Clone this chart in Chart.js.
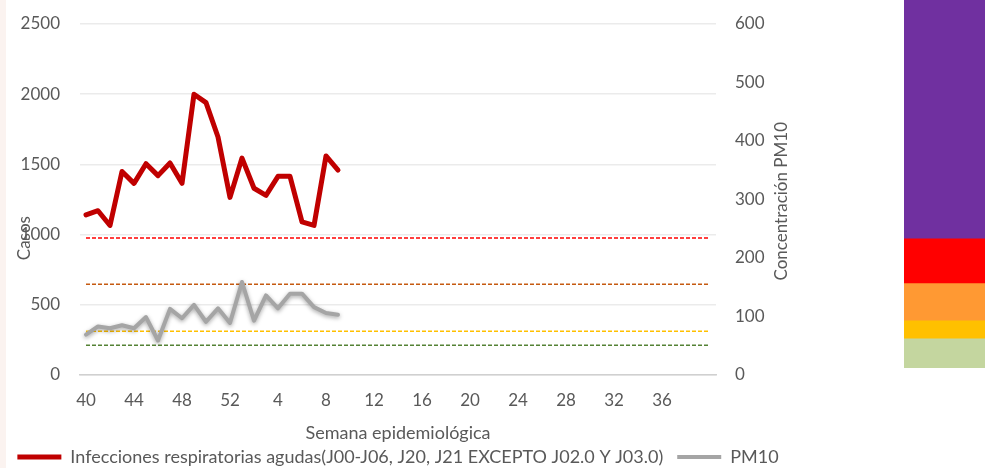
<!DOCTYPE html>
<html lang="es">
<head>
<meta charset="utf-8">
<title>IRA y PM10 por semana epidemiológica</title>
<script src="https://cdn.jsdelivr.net/npm/chart.js@4.4.1/dist/chart.umd.min.js"></script>
<style>
    body { margin: 0; background: #ffffff; }
    #wrap { position: relative; width: 985px; height: 468px; overflow: hidden; }
    #leftStrip { position: absolute; left: 0; top: 0; width: 6px; height: 468px; background: #fbf3f0; }
    #chart { position: absolute; left: 0; top: 0; }
    #scaleBar { position: absolute; left: 904px; top: 0; }
</style>
</head>
<body>
<div id="wrap">
    <div id="leftStrip"></div>
    <canvas id="chart" width="985" height="468"></canvas>
    <canvas id="scaleBar" width="81" height="368"></canvas>
</div>
<script>
// --- DATA ---
const weeks = [40, 41, 42, 43, 44, 45, 46, 47, 48, 49, 50, 51, 52,
    1, 2, 3, 4, 5, 6, 7, 8, 9, 10, 11, 12, 13, 14, 15, 16, 17, 18, 19, 20,
    21, 22, 23, 24, 25, 26, 27, 28, 29, 30, 31, 32, 33, 34, 35, 36, 37, 38, 39, 40];

// casos de infecciones respiratorias agudas (eje izquierdo)
const casosIRA = [1140, 1170, 1065, 1450, 1365, 1505, 1420, 1510, 1365, 2000, 1940,
    1695, 1265, 1545, 1330, 1280, 1415, 1415, 1090, 1065, 1560, 1460];

// concentración PM10 (eje derecho)
const pm10 = [69, 83, 80, 85, 80, 99, 59, 113, 97, 120, 91, 114, 89, 159, 93, 136,
    114, 139, 139, 116, 106, 103];

// límites de referencia PM10 (líneas punteadas)
const limitValues = [51, 75, 155, 234];
const limitColors = ['#548235', '#ffc000', '#c55a11', '#ff0000'];

const casosTicks = [0, 500, 1000, 1500, 2000, 2500];
const pm10Ticks = [0, 100, 200, 300, 400, 500, 600];

// escala de colores a la derecha (de abajo hacia arriba)
const bandValues = [50, 31, 64, 77, 411];
const bandColors = ['#c4d69f', '#ffc000', '#ff9933', '#ff0000', '#7030a0'];

const FONT = 'Lato, "Open Sans", sans-serif';
const TEXT = '#595959';

// --- PLUGINS ---
// titles of the two value axes, both read bottom-to-top as in the original
const axisTitles = {
    id: 'axisTitles',
    afterDraw(chart) {
        const { ctx, chartArea } = chart;
        ctx.save();
        ctx.fillStyle = TEXT;
        ctx.font = '17px ' + FONT;
        ctx.textAlign = 'center';
        ctx.textBaseline = 'middle';

        ctx.translate(chartArea.left - 55, chartArea.top + chartArea.height * 0.61);
        ctx.rotate(-Math.PI / 2);
        ctx.fillText('Casos', 0, 0);
        ctx.restore();

        ctx.save();
        ctx.fillStyle = TEXT;
        ctx.font = '17px ' + FONT;
        ctx.textAlign = 'center';
        ctx.textBaseline = 'middle';
        ctx.translate(chartArea.right + 66, chartArea.top + chartArea.height * 0.505);
        ctx.rotate(-Math.PI / 2);
        ctx.fillText('Concentración PM10', 0, 0);
        ctx.restore();
    }
};

// soft shadow under the PM10 line
const lineShadow = {
    id: 'lineShadow',
    beforeDatasetDraw(chart, args) {
        if (chart.data.datasets[args.index].label !== 'PM10') return;
        const ctx = chart.ctx;
        ctx.save();
        ctx.shadowColor = 'rgba(0,0,0,0.35)';
        ctx.shadowBlur = 4;
        ctx.shadowOffsetY = 1.5;
    },
    afterDatasetDraw(chart, args) {
        if (chart.data.datasets[args.index].label !== 'PM10') return;
        chart.ctx.restore();
    }
};

// fixed widths for the value axes, no extra padding above the top tick
function fitValueAxis(scale) {
    scale.width = 80;
    scale.paddingTop = 0;
    scale.paddingBottom = 0;
}

// --- MAIN CHART ---
const limitDatasets = limitValues.map((v, i) => ({
    label: 'limite' + i,
    data: weeks.map(() => v),
    yAxisID: 'y1',
    borderColor: limitColors[i],
    borderWidth: 1.5,
    borderDash: [4, 2],
    pointRadius: 0,
    fill: false,
    order: 2
}));

new Chart(document.getElementById('chart').getContext('2d'), {
    type: 'line',
    data: {
        labels: weeks,
        datasets: [
            {
                label: 'Infecciones respiratorias agudas(J00-J06, J20, J21 EXCEPTO J02.0 Y J03.0)',
                data: casosIRA,
                yAxisID: 'y',
                borderColor: '#c00000',
                backgroundColor: '#c00000',
                borderWidth: 5,
                borderJoinStyle: 'round',
                borderCapStyle: 'round',
                pointRadius: 0,
                tension: 0,
                order: 0
            },
            {
                label: 'PM10',
                data: pm10,
                yAxisID: 'y1',
                borderColor: '#a5a5a5',
                backgroundColor: '#a5a5a5',
                borderWidth: 4,
                borderJoinStyle: 'round',
                borderCapStyle: 'round',
                pointRadius: 0,
                tension: 0,
                order: 1
            },
            ...limitDatasets
        ]
    },
    options: {
        responsive: false,
        animation: false,
        devicePixelRatio: 1,
        layout: { padding: { left: 0, right: 189, top: 24, bottom: -8 } },
        plugins: {
            tooltip: { enabled: false },
            legend: {
                position: 'bottom',
                labels: {
                    filter: item => !item.text.startsWith('limite'),
                    usePointStyle: true,
                    pointStyle: 'line',
                    pointStyleWidth: 44,
                    boxHeight: 6,
                    padding: 14,
                    color: TEXT,
                    font: { family: FONT, size: 18 }
                }
            }
        },
        scales: {
            x: {
                offset: true,
                grid: { display: false, drawTicks: false },
                border: { display: true, color: '#d0d0d0', width: 1.5 },
                ticks: {
                    autoSkip: false,
                    maxRotation: 0,
                    padding: 15,
                    color: TEXT,
                    font: { family: FONT, size: 17 },
                    callback: (val, idx) => (idx % 4 === 0 && idx < 52) ? weeks[idx] : ''
                },
                title: {
                    display: true,
                    text: 'Semana epidemiológica',
                    color: TEXT,
                    font: { family: FONT, size: 18 },
                    padding: { top: 0, bottom: -10 }
                },
                afterFit: scale => { scale.height = 59; }
            },
            y: {
                position: 'left',
                min: 0,
                max: 2500,
                afterBuildTicks: scale => { scale.ticks = casosTicks.map(v => ({ value: v })); },
                grid: { color: '#ebebeb', lineWidth: 1.5, drawTicks: false },
                border: { display: false },
                ticks: { padding: 20, color: TEXT, font: { family: FONT, size: 17 }, callback: v => String(v) },
                afterFit: fitValueAxis
            },
            y1: {
                position: 'right',
                min: 0,
                max: 600,
                afterBuildTicks: scale => { scale.ticks = pm10Ticks.map(v => ({ value: v })); },
                grid: { display: false, drawTicks: false },
                border: { display: false },
                ticks: { padding: 19, color: TEXT, font: { family: FONT, size: 17 }, callback: v => String(v) },
                afterFit: fitValueAxis
            }
        }
    },
    plugins: [axisTitles, lineShadow]
});

// --- COLOUR SCALE BAR ---
new Chart(document.getElementById('scaleBar').getContext('2d'), {
    type: 'bar',
    data: {
        labels: [''],
        datasets: bandValues.map((v, i) => ({
            data: [v],
            backgroundColor: bandColors[i],
            borderWidth: 0,
            barPercentage: 1,
            categoryPercentage: 1
        }))
    },
    options: {
        responsive: false,
        animation: false,
        devicePixelRatio: 1,
        layout: { padding: 0 },
        plugins: { legend: { display: false }, tooltip: { enabled: false } },
        scales: {
            x: { display: false, stacked: true },
            y: { display: false, stacked: true, min: 0, max: bandValues.reduce((a, b) => a + b, 0) }
        }
    }
});
</script>
</body>
</html>
